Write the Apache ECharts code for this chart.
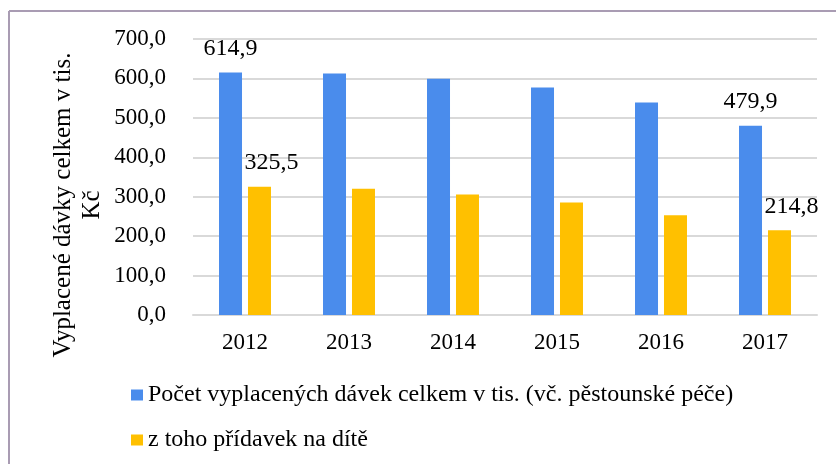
<!DOCTYPE html>
<html>
<head>
<meta charset="utf-8">
<script src="https://cdn.jsdelivr.net/npm/echarts@6/dist/echarts.min.js"></script>
<style>
  html, body { margin: 0; padding: 0; background: #fff; }
  #main { width: 836px; height: 464px; }
</style>
</head>
<body>
<div id="main"></div>
<script>
  // roky
  const years = ['2012', '2013', '2014', '2015', '2016', '2017'];
  // Počet vyplacených dávek celkem v tis. (vč. pěstounské péče)
  const totalValues = [614.9, 612.5, 599.5, 577.0, 539.0, 479.9];
  // z toho přídavek na dítě
  const childValues = [325.5, 320.5, 305.5, 285.5, 253.0, 214.8];
  const seriesNames = ['Počet vyplacených dávek celkem v tis. (vč. pěstounské péče)', 'z toho přídavek na dítě'];
  const yTicks = [0, 100, 200, 300, 400, 500, 600, 700];
  const axisName = 'Vyplacené dávky celkem v tis.\nKč';

  const font = "'Liberation Serif', 'Times New Roman', serif";
  const fmt = (v) => v.toFixed(1).replace('.', ',');

  // popisky jen u prvního a posledního roku
  const withLabels = (values, offsetX) => values.map((v, i) => {
    if (i === 0 || i === values.length - 1) {
      return {
        value: v,
        label: {
          show: true, position: 'top', distance: 12,
          offset: [offsetX, 0],
          formatter: (p) => fmt(p.value),
          color: '#000', fontFamily: font, fontSize: 24
        }
      };
    }
    return v;
  });

  const chart = echarts.init(document.getElementById('main'));

  const option = {
    animation: false,
    backgroundColor: '#fff',
    grid: { left: 193, right: 19, top: 39, bottom: 149 },
    legend: {
      orient: 'vertical',
      left: 131,
      top: 383,
      padding: 0,
      itemWidth: 12,
      itemHeight: 11,
      itemGap: 21,
      icon: 'rect',
      data: seriesNames,
      textStyle: { color: '#000', fontFamily: font, fontSize: 24, lineHeight: 24 }
    },
    xAxis: {
      type: 'category',
      data: years,
      axisTick: { show: false },
      axisLine: { lineStyle: { color: '#d9d9d9', width: 2 } },
      axisLabel: { color: '#000', fontFamily: font, fontSize: 23, margin: 16 }
    },
    yAxis: {
      type: 'value',
      min: yTicks[0],
      max: yTicks[yTicks.length - 1],
      interval: 100,
      axisLine: { show: false },
      axisTick: { show: false },
      splitLine: { lineStyle: { color: '#d9d9d9', width: 2 } },
      axisLabel: { color: '#000', fontFamily: font, fontSize: 23, margin: 27, formatter: fmt }
    },
    graphic: [
      // okraj grafu (nahoře a vlevo)
      { type: 'line', shape: { x1: 9, y1: 11, x2: 836, y2: 11 }, style: { stroke: '#a99cb3', lineWidth: 2 } },
      { type: 'line', shape: { x1: 9, y1: 11, x2: 9, y2: 464 }, style: { stroke: '#a99cb3', lineWidth: 2 } },
      // název osy y
      {
        type: 'text',
        x: 78, y: 205,
        rotation: Math.PI / 2,
        style: {
          text: axisName,
          fill: '#000',
          font: '25px ' + font,
          lineHeight: 29,
          align: 'center',
          verticalAlign: 'middle'
        }
      }
    ],
    series: [
      {
        name: seriesNames[0],
        type: 'bar',
        barWidth: 23,
        barGap: '26%',
        itemStyle: { color: '#4a8cec' },
        data: withLabels(totalValues, 0)
      },
      {
        name: seriesNames[1],
        type: 'bar',
        barWidth: 23,
        itemStyle: { color: '#ffc000' },
        data: withLabels(childValues, 12)
      }
    ]
  };

  chart.setOption(option);
</script>
</body>
</html>
